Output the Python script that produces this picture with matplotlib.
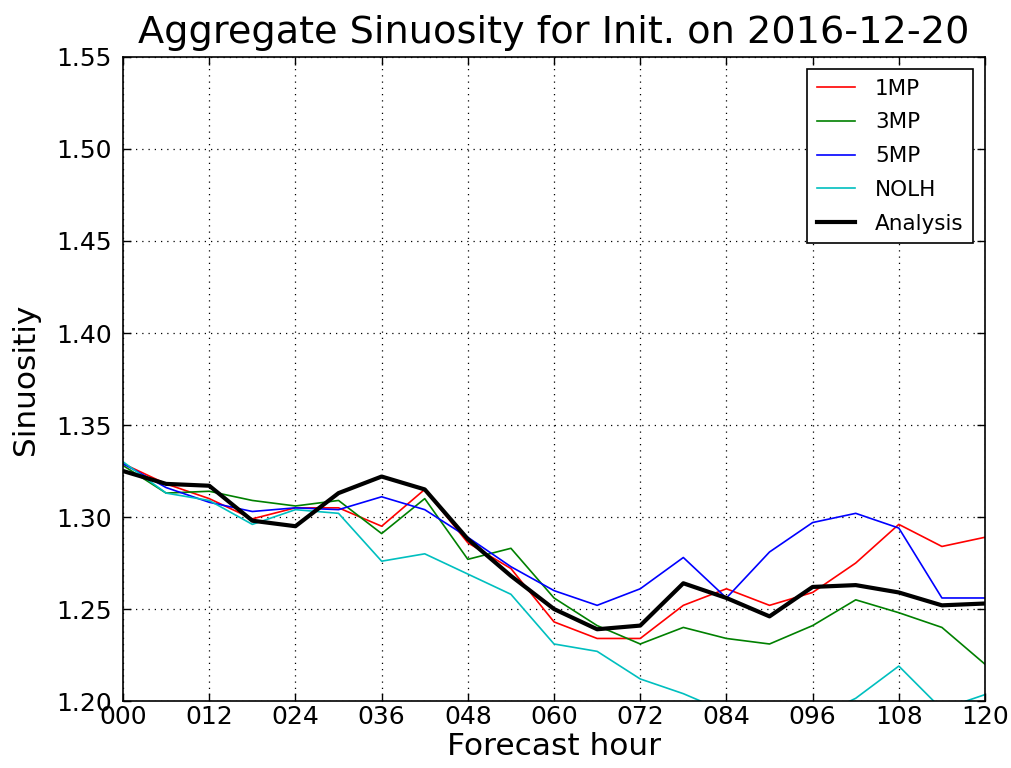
import matplotlib
matplotlib.use("Agg")
import matplotlib.pyplot as plt
import numpy as np

hours = [0, 6, 12, 18, 24, 30, 36, 42, 48, 54, 60, 66, 72, 78, 84, 90, 96, 102, 108, 114, 120]
xtick_hours = [0, 12, 24, 36, 48, 60, 72, 84, 96, 108, 120]
xtick_labels = ["000", "012", "024", "036", "048", "060", "072", "084", "096", "108", "120"]

mp1 = [1.329, 1.318, 1.310, 1.299, 1.305, 1.305, 1.295, 1.315, 1.286, 1.272, 1.243, 1.234, 1.234,
       1.252, 1.261, 1.252, 1.259, 1.275, 1.296, 1.284, 1.289]
mp3 = [1.328, 1.313, 1.314, 1.309, 1.306, 1.309, 1.291, 1.310, 1.277, 1.283, 1.256, 1.241, 1.231,
       1.240, 1.234, 1.231, 1.241, 1.255, 1.248, 1.240, 1.220]
mp5 = [1.329, 1.316, 1.308, 1.303, 1.305, 1.304, 1.311, 1.304, 1.289, 1.273, 1.260, 1.252, 1.261,
       1.278, 1.256, 1.281, 1.297, 1.302, 1.294, 1.256, 1.256]
nolh = [1.330, 1.313, 1.309, 1.296, 1.304, 1.302, 1.276, 1.280, 1.269, 1.258, 1.231, 1.227, 1.212,
        1.204, 1.194, 1.190, 1.190, 1.2015, 1.219, 1.1955, 1.2035]
analysis = [1.325, 1.318, 1.317, 1.298, 1.295, 1.313, 1.322, 1.315, 1.288, 1.268, 1.250, 1.239, 1.241,
            1.264, 1.256, 1.246, 1.262, 1.263, 1.259, 1.252, 1.253]

plt.rcParams["font.family"] = ["DejaVu Sans"]

fig = plt.figure(figsize=(10.11, 7.68), dpi=100)
ax = fig.add_axes([0.1217, 0.0872, 0.8526, 0.8386])

ax.plot(hours, mp1, color="red", lw=1.2, label="1MP")
ax.plot(hours, mp3, color="green", lw=1.2, label="3MP")
ax.plot(hours, mp5, color="blue", lw=1.2, label="5MP")
ax.plot(hours, nolh, color="c", lw=1.2, label="NOLH")
ax.plot(hours, analysis, color="black", lw=3, label="Analysis")

ax.set_xlim(0, 120)
ax.set_ylim(1.20, 1.55)
ax.set_xticks(xtick_hours)
ax.set_xticklabels(xtick_labels)
ax.set_yticks(np.arange(1.20, 1.5501, 0.05))
ax.yaxis.set_major_formatter(matplotlib.ticker.FormatStrFormatter("%.2f"))
ax.tick_params(direction="in", length=6, width=1, labelsize=18, top=True, right=True)
ax.tick_params(axis="x", pad=3)
ax.tick_params(axis="y", pad=8)
ax.grid(True, color="black", linestyle=(0, (1, 4)), linewidth=0.9)
for s in ax.spines.values():
    s.set_linewidth(1.2)

ax.set_title("Aggregate Sinuosity for Init. on 2016-12-20", fontsize=27.5, pad=10)
ax.set_xlabel("Forecast hour", fontsize=22.5, labelpad=2)
ax.set_ylabel("Sinuositiy", fontsize=22.5, labelpad=12)

leg = ax.legend(loc="upper right", fontsize=15.5, fancybox=False, framealpha=1,
                edgecolor="black", handlelength=1.8, handletextpad=0.9,
                borderaxespad=0.55, labelspacing=0.64, borderpad=0.45)
leg.get_frame().set_linewidth(1.2)

fig.savefig("out.png", dpi=100)
